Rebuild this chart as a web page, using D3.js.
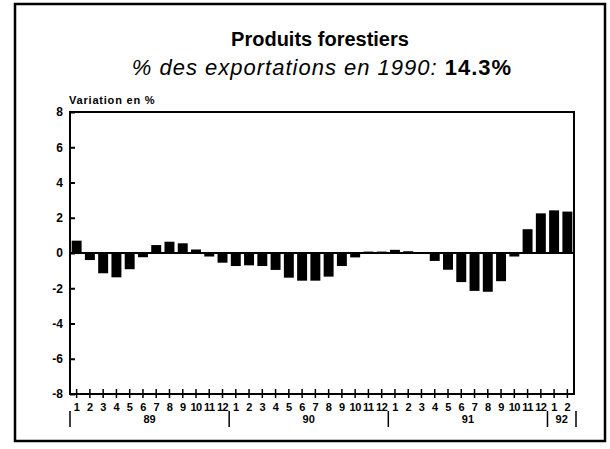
<!DOCTYPE html>
<html>
<head>
<meta charset="utf-8">
<script src="https://cdn.jsdelivr.net/npm/d3@7"></script>
<style>
  body { margin: 0; background: #fff; }
  text { font-family: "Liberation Sans", Arial, sans-serif; fill: #000; }
</style>
</head>
<body>
<script>
var months = ["1","2","3","4","5","6","7","8","9","10","11","12",
              "1","2","3","4","5","6","7","8","9","10","11","12",
              "1","2","3","4","5","6","7","8","9","10","11","12",
              "1","2"];
var years = ["89", "90", "91", "92"];
var yearMonths = [12, 12, 12, 2];
var values = [0.70, -0.40, -1.15, -1.38, -0.92, -0.24, 0.45, 0.64, 0.55, 0.20, -0.20, -0.55,
              -0.74, -0.70, -0.74, -0.96, -1.40, -1.57, -1.57, -1.34, -0.74, -0.25, 0.08, 0.08,
              0.18, 0.10, 0.05, -0.45, -0.95, -1.65, -2.15, -2.20, -1.60, -0.20, 1.35, 2.25, 2.42, 2.35];
var yTicks = [-8, -6, -4, -2, 0, 2, 4, 6, 8];

var width = 610;
var height = 449;
var plotLeft = 70, plotRight = 574, plotTop = 112, plotBottom = 394;

var svg = d3.select("body")
			.append("svg")
			.attr("width", width)
			.attr("height", height);

// outer frame
svg.append("rect")
	.attr("x", 15).attr("y", 4)
	.attr("width", 590).attr("height", 437)
	.attr("fill", "none")
	.attr("stroke", "#000")
	.attr("stroke-width", 2.5);

// titles
svg.append("text")
	.attr("x", 320).attr("y", 46)
	.attr("text-anchor", "middle")
	.attr("font-size", "20px")
	.attr("font-weight", "bold")
	.text("Produits forestiers");

var sub = svg.append("text")
	.attr("x", 322).attr("y", 75)
	.attr("text-anchor", "middle")
	.attr("font-size", "22px")
	.attr("letter-spacing", "1px");
sub.append("tspan").attr("font-style", "italic").text("% des exportations en 1990: ");
sub.append("tspan").attr("font-weight", "bold").text("14.3%");

svg.append("text")
	.attr("x", 69).attr("y", 104)
	.attr("font-size", "11px")
	.attr("font-weight", "bold")
	.attr("letter-spacing", "0.8px")
	.text("Variation en %");

var idx = d3.range(values.length);
var x = d3.scaleBand()
		.domain(idx)
		.range([plotLeft, plotRight])
		.paddingInner(0.25)
		.paddingOuter(0.125);
var y = d3.scaleLinear()
		.domain([-8, 8])
		.range([plotBottom, plotTop]);

// plot box
svg.append("rect")
	.attr("x", plotLeft).attr("y", plotTop)
	.attr("width", plotRight - plotLeft).attr("height", plotBottom - plotTop)
	.attr("fill", "none")
	.attr("stroke", "#000")
	.attr("stroke-width", 2);

// bars
svg.selectAll("rect.bar")
	.data(values)
	.enter()
	.append("rect")
	.attr("class", "bar")
	.attr("x", function(d, i) { return x(i); })
	.attr("y", function(d) { return y(Math.max(0, d)); })
	.attr("width", x.bandwidth())
	.attr("height", function(d) { return Math.abs(y(d) - y(0)); })
	.attr("fill", "#000");

// zero line
svg.append("line")
	.attr("x1", plotLeft).attr("x2", plotRight)
	.attr("y1", y(0)).attr("y2", y(0))
	.attr("stroke", "#000")
	.attr("stroke-width", 2);

// y axis
var yAxis = svg.append("g")
	.attr("transform", "translate(" + plotLeft + ",0)")
	.call(d3.axisLeft(y).tickValues(yTicks).tickSize(-5).tickPadding(7)
		.tickFormat(function(d) { return String(d); }));
yAxis.select(".domain").remove();
yAxis.selectAll("line").attr("stroke-width", 2);
yAxis.selectAll("text")
	.attr("font-size", "12px")
	.attr("font-weight", "bold")
	.attr("font-family", "Liberation Sans, Arial, sans-serif");

// x axis
var xAxis = svg.append("g")
	.attr("transform", "translate(0," + plotBottom + ")")
	.call(d3.axisBottom(x).tickSize(4).tickPadding(5)
		.tickFormat(function(d) { return months[d]; }));
xAxis.select(".domain").remove();
xAxis.selectAll("line").attr("y1", -5).attr("y2", 4).attr("stroke-width", 1.5);
xAxis.selectAll("text")
	.attr("font-size", "11px")
	.attr("font-weight", "bold")
	.attr("letter-spacing", "-0.5px")
	.attr("font-family", "Liberation Sans, Arial, sans-serif");

// year groups
var yearData = years.map(function(label, i) {
	var start = d3.sum(yearMonths.slice(0, i));
	return { label: label, start: start, end: start + yearMonths[i] };
});
var step = x.step();
var edge = function(k) {
	return k === values.length ? plotRight + 2 : x(k) - x.paddingInner() * step / 2;
};

svg.selectAll("line.div")
	.data(yearData.map(function(d) { return d.start; }).concat([values.length]))
	.enter()
	.append("line")
	.attr("class", "div")
	.attr("x1", function(d) { return edge(d); })
	.attr("x2", function(d) { return edge(d); })
	.attr("y1", 411).attr("y2", 427)
	.attr("stroke", "#000")
	.attr("stroke-width", 1.5);

svg.selectAll("text.year")
	.data(yearData)
	.enter()
	.append("text")
	.attr("class", "year")
	.attr("x", function(d) { return (edge(d.start) + edge(d.end)) / 2; })
	.attr("y", 423)
	.attr("text-anchor", "middle")
	.attr("font-size", "11px")
	.attr("font-weight", "bold")
	.text(function(d) { return d.label; });
</script>
</body>
</html>
